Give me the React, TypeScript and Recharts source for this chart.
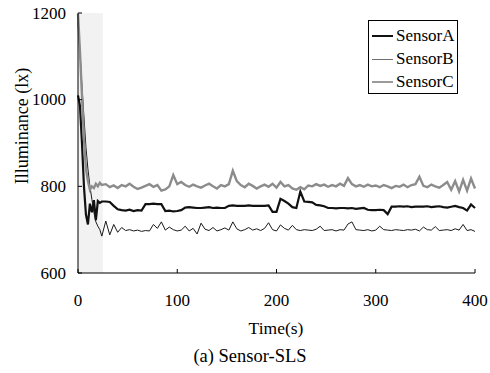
import { LineChart, Line, XAxis, YAxis, ReferenceArea } from 'recharts';

const FONT = '"Liberation Serif", "Times New Roman", serif';

// time stamps (s)
const times = [
  0, 2, 4, 6, 8, 10, 12, 14, 16, 18, 20, 22, 24,
  28, 32, 36, 40, 44, 48, 52, 56, 60, 64,
  68, 72, 76, 80, 84, 88, 92, 96, 100, 104,
  108, 112, 116, 120, 124, 128, 132, 136, 140, 144,
  148, 152, 156, 160, 164, 168, 172, 176, 180, 184,
  188, 192, 196, 200, 204, 208, 212, 216, 220, 224,
  228, 232, 236, 240, 244, 248, 252, 256, 260, 264,
  268, 272, 276, 280, 284, 288, 292, 296, 300, 304,
  308, 312, 316, 320, 324, 328, 332, 336, 340, 344,
  348, 352, 356, 360, 364, 368, 372, 376, 380, 384,
  388, 392, 396, 400,
];

const sensorA = [
  1010, 985, 900, 800, 735, 712, 760, 740, 768, 722, 766, 762, 765,
  765, 764, 755, 747, 745, 744, 746, 743, 745, 744,
  759, 759, 760, 759, 759, 743, 744, 742, 743, 745,
  751, 752, 751, 750, 750, 751, 752, 750, 751, 750,
  750, 755, 756, 755, 755, 755, 756, 755, 755, 755,
  755, 756, 741, 741, 771, 766, 760, 752, 750, 788,
  765, 764, 763, 757, 756, 754, 750, 750, 749, 750,
  750, 749, 750, 748, 749, 750, 746, 745, 745, 746,
  745, 736, 753, 753, 754, 753, 754, 752, 753, 753,
  753, 754, 752, 753, 754, 752, 751, 753, 755, 752,
  750, 744, 758, 750,
];

const sensorB = [
  1180, 1110, 1030, 960, 890, 840, 800, 770, 740, 718, 708, 700, 685,
  720, 688, 712, 694, 705, 698, 700, 697, 699, 696,
  698, 697, 712, 703, 718, 699, 706, 700, 697, 699,
  708, 697, 703, 690, 715, 701, 698, 705, 697, 700,
  704, 699, 718, 702, 697, 700, 705, 699, 702, 698,
  703, 716, 700, 697, 711, 703, 699, 710, 700, 698,
  700, 699, 698, 701, 708, 698, 699, 700, 697, 700,
  699, 713, 718, 700, 699, 698, 700, 697, 699, 708,
  700, 699, 698, 700, 699, 698, 700, 699, 701, 697,
  706, 700, 699, 707, 698, 699, 700, 698, 702, 699,
  712, 698, 700, 696,
];

const sensorC = [
  1198, 1110, 1010, 910, 840, 812, 792, 800, 796, 806, 800, 808, 803,
  805, 798, 802, 796, 803, 800, 806, 799, 794, 797,
  801, 805, 799, 803, 790, 793, 800, 826, 805, 810,
  803, 799, 804, 800, 797, 802, 806, 800, 795, 803,
  800, 805, 836, 812, 803, 798, 806, 801, 795, 800,
  804, 799, 806, 797, 810, 800, 803, 795, 792, 798,
  793, 802, 800, 805, 801, 804, 799, 803, 800, 806,
  801, 819, 805, 800, 803, 799, 804, 800, 802, 798,
  803, 800, 796, 801, 799, 804, 798, 803, 805, 822,
  801, 798, 804, 800, 797, 803, 810, 792, 812, 788,
  815, 790, 818, 795,
];

const xTicks = [0, 100, 200, 300, 400];
const yTicks = [600, 800, 1000, 1200];

const series = [
  { key: 'a', name: 'SensorA', color: '#111111', width: 2.2 },
  { key: 'b', name: 'SensorB', color: '#1a1a1a', width: 1 },
  { key: 'c', name: 'SensorC', color: '#8c8c8c', width: 2.4 },
];

const legendColors: Record<string, string> = { a: '#111111', b: '#6e6e6e', c: '#9a9a9a' };

const data = times.map((t, i) => ({ t, a: sensorA[i], b: sensorB[i], c: sensorC[i] }));

const XTick = ({ x, y, payload }: any) => (
  <g>
    <line x1={x} x2={x} y1={y} y2={y - 4} stroke="#000" />
    <text x={x} y={y + 27} textAnchor="middle" dominantBaseline="central"
      style={{ fontFamily: FONT }} fontSize={17} fill="#000">{payload.value}</text>
  </g>
);

const YTick = ({ x, y, payload }: any) => (
  <g>
    <line x1={x} x2={x + 4} y1={y} y2={y} stroke="#000" />
    <text x={x - 12} y={y} textAnchor="end" dominantBaseline="central"
      style={{ fontFamily: FONT }} fontSize={17} fill="#000">{payload.value}</text>
  </g>
);

export default function App() {
  return (
    <div style={{ position: 'absolute', left: 0, top: 0, width: 490, height: 373, background: '#fff', fontFamily: FONT }}>
      <LineChart width={490} height={373} data={data} margin={{ top: 13, right: 15, left: 0, bottom: 0 }}
        style={{ fontFamily: FONT }}>
        <XAxis xAxisId="b" dataKey="t" type="number" domain={[0, 400]} ticks={xTicks}
          tickSize={0} tickMargin={0} tickLine={false} height={100}
          axisLine={{ stroke: '#000' }} tick={<XTick />}
          label={(
            <g>
              <text x={276} y={328} textAnchor="middle" dominantBaseline="central"
                style={{ fontFamily: FONT }} fontSize={17.5} fill="#000">Time(s)</text>
              <text x={250} y={356} textAnchor="middle" dominantBaseline="central"
                style={{ fontFamily: FONT }} fontSize={18.5} fill="#000">(a) Sensor-SLS</text>
            </g>
          )} />
        <XAxis xAxisId="top" orientation="top" dataKey="t" type="number" domain={[0, 400]}
          height={0} tick={false} tickLine={false} axisLine={{ stroke: '#000' }} />
        <YAxis yAxisId="l" type="number" domain={[600, 1200]} ticks={yTicks} width={78}
          tickSize={0} tickMargin={0} tickLine={false} allowDataOverflow
          axisLine={{ stroke: '#000' }} tick={<YTick />}
          label={(
            <text x={22} y={143} transform="rotate(-90 22 143)" textAnchor="middle"
              dominantBaseline="central" style={{ fontFamily: FONT }} fontSize={18} fill="#000">
              Illuminance (lx)
            </text>
          )} />
        <YAxis yAxisId="r" orientation="right" type="number" domain={[600, 1200]} width={0}
          tick={false} tickLine={false} axisLine={{ stroke: '#000' }} />
        <ReferenceArea xAxisId="b" yAxisId="l" x1={0} x2={25} y1={600} y2={1200}
          fill="#f2f2f2" fillOpacity={1} stroke="none" />
        {series.map((s) => (
          <Line key={s.key} xAxisId="b" yAxisId="l" type="linear" dataKey={s.key} name={s.name}
            stroke={s.color} strokeWidth={s.width} dot={false} isAnimationActive={false} />
        ))}
      </LineChart>
      {/* legend */}
      <div style={{
        position: 'absolute', left: 368, top: 20, width: 90, height: 74,
        border: '1px solid #000', boxSizing: 'border-box', background: '#fff',
        fontFamily: FONT, fontSize: 17, color: '#000',
      }}>
        {series.map((s, i) => (
          <div key={s.key} style={{
            position: 'absolute', left: 3, top: 4 + i * 23, height: 22,
            display: 'flex', alignItems: 'center', whiteSpace: 'nowrap',
          }}>
            <div style={{ width: 21, height: Math.round(s.width), background: legendColors[s.key], marginRight: 3 }} />
            <span>{s.name}</span>
          </div>
        ))}
      </div>
    </div>
  );
}
